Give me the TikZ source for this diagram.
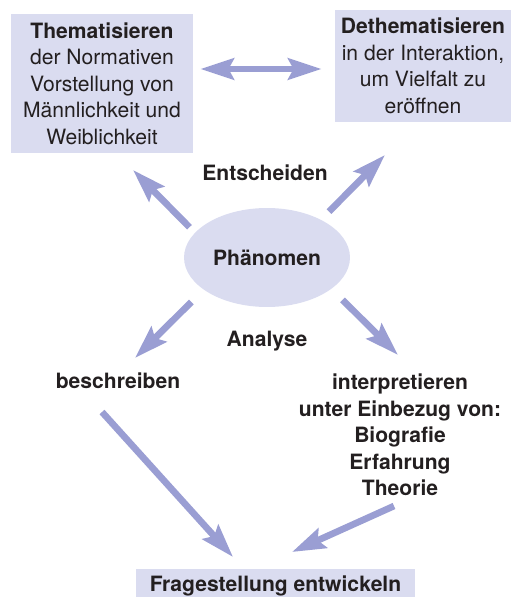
\documentclass[tikz,border=0pt]{standalone}
\usepackage{fontspec}
\setmainfont{TeX Gyre Heros}
\usetikzlibrary{arrows.meta, positioning, shapes.geometric, calc}
\definecolor{boxfill}{HTML}{DADCF0}
\definecolor{arrowcol}{HTML}{9A9ED3}
\definecolor{ink}{HTML}{231F20}

\begin{document}
\begin{tikzpicture}[x=0.02cm, y=-0.02cm,
    >={Stealth[length=19pt, width=12pt, inset=3pt]},
    every node/.style={text=ink, font=\fontsize{12}{15.1}\selectfont},
    panel/.style={fill=boxfill, align=center, inner sep=0pt},
    bfnode/.style={font=\fontsize{12}{15.1}\selectfont\bfseries, align=center},
    flow/.style={->, line width=3.8pt, draw=arrowcol}]
  \useasboundingbox (0,0) rectangle (511,597);

  % Two boxes at the top
  \node[panel, minimum width=3.64cm, minimum height=2.78cm] (them) at (102,83.5)
    {\textbf{Thematisieren}\\der Normativen\\Vorstellung von\\Männlichkeit und\\Weiblichkeit};
  \node[panel, minimum width=3.52cm, minimum height=2.24cm] (dethem) at (423,66)
    {\textbf{Dethematisieren}\\in der Interaktion,\\um Vielfalt zu\\eröffnen};

  % Centre
  \node[ellipse, fill=boxfill, minimum width=3.32cm, minimum height=1.98cm,
        inner sep=0pt, bfnode] (phen) at (267,257.5) {Phänomen};
  \node[bfnode] (ent) at (265,173) {Entscheiden};
  \node[bfnode] (ana) at (267,341) {Analyse};

  % Analysis branches
  \node[bfnode] (besch) at (118,381) {beschreiben};
  \node[bfnode] (interp) at (400,435)
    {interpretieren\\unter Einbezug von:\\Biografie\\Erfahrung\\Theorie};

  % Box at the bottom
  \node[panel, minimum width=5.58cm, minimum height=0.68cm, bfnode] (frage)
    at (275.5,586) {Fragestellung entwickeln};

  % Free arrow ends
  \coordinate (mid) at (261,69);
  \coordinate (them-in) at (133,170);
  \coordinate (dethem-in) at (385,155);
  \coordinate (besch-in) at (135,358);
  \coordinate (interp-in) at (398,355);
  \coordinate (besch-out) at (102,412);
  \coordinate (frage-l) at (233,557);
  \coordinate (interp-out) at (394,506);
  \coordinate (frage-r) at (292,552);

  % Arrows
  \draw[flow, <->, shorten <=0.14cm, shorten >=0.26cm]
    (them.east |- mid) -- (dethem.west |- mid);
  \draw[flow, shorten <=4.3pt] (phen.161) -- (them-in);
  \draw[flow, shorten <=6.4pt] (phen.35) -- (dethem-in);
  \draw[flow, shorten <=9.8pt] (phen.207) -- (besch-in);
  \draw[flow, shorten <=8.8pt] (phen.334) -- (interp-in);
  \draw[flow] (besch-out) -- (frage-l);
  \draw[flow] (interp-out) -- (frage-r);
\end{tikzpicture}
\end{document}
